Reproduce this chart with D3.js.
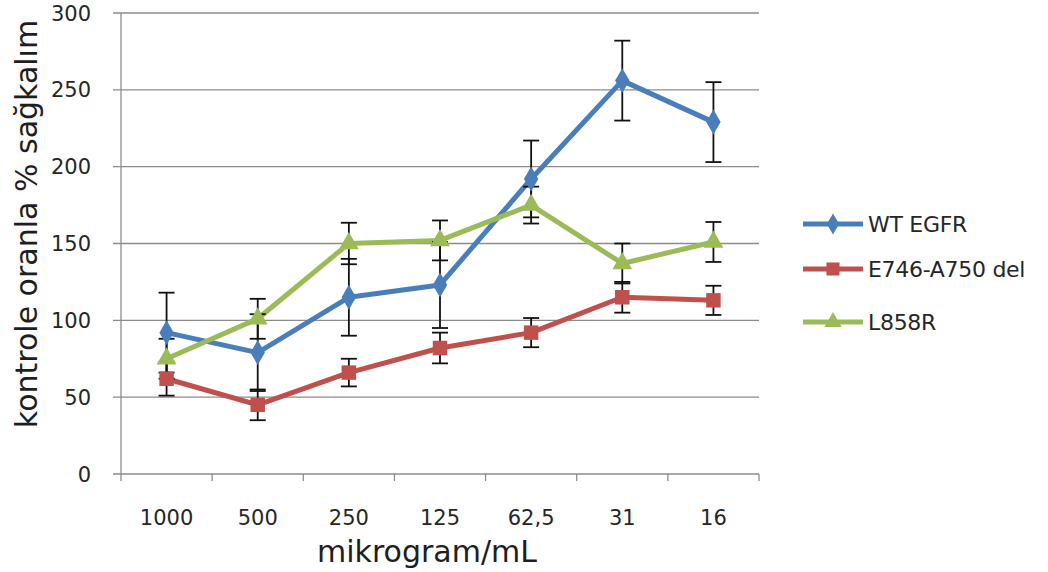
<!DOCTYPE html>
<html>
<head>
<meta charset="utf-8">
<script src="https://cdn.jsdelivr.net/npm/d3@7"></script>
<style>
  body { margin: 0; background: #fff; }
  text { font-family: "DejaVu Sans", "Open Sans", sans-serif; fill: #262626; }
</style>
</head>
<body>
<div id="chart"></div>
<script>
const categories = ["1000", "500", "250", "125", "62,5", "31", "16"];
const yTicks = [0, 50, 100, 150, 200, 250, 300];

const wtValues = [92, 79, 115, 123, 192, 256, 229];
const wtErrors = [26, 25, 25, 28, 25, 26, 26];
const delValues = [62, 45, 66, 82, 92, 115, 113];
const delErrors = [11, 10, 9, 10, 9.5, 10, 9.5];
const l858Values = [75, 101, 150, 152, 175, 137, 151];
const l858Errors = [13, 13, 13.5, 13, 12, 13, 13];

const series = [
  {name: "WT EGFR", values: wtValues, errors: wtErrors, color: "#4a7ebb", shape: d3.symbolDiamond},
  {name: "E746-A750 del", values: delValues, errors: delErrors, color: "#c0504d", shape: d3.symbolSquare},
  {name: "L858R", values: l858Values, errors: l858Errors, color: "#9bbb59", shape: d3.symbolTriangle}
];

const margin = {top: 13, right: 289, bottom: 98, left: 121};
const totalW = 1048, totalH = 572;
const width = totalW - margin.left - margin.right;
const height = totalH - margin.top - margin.bottom;

const svg = d3.select("#chart")
  .append("svg")
  .attr("width", totalW)
  .attr("height", totalH)
  .append("g")
  .attr("transform", `translate(${margin.left},${margin.top})`);

const x = d3.scaleBand().domain(categories).range([0, width]);
const y = d3.scaleLinear().domain([0, 300]).range([height, 0]);

// gridlines
svg.append("g")
  .selectAll("line")
  .data(yTicks)
  .enter()
  .append("line")
  .attr("x1", -8)
  .attr("x2", width)
  .attr("y1", d => y(d))
  .attr("y2", d => y(d))
  .attr("stroke", "#8c8c8c")
  .attr("stroke-width", 1.3);

// y axis line + labels
svg.append("line")
  .attr("x1", 0).attr("x2", 0)
  .attr("y1", 0).attr("y2", height)
  .attr("stroke", "#8c8c8c")
  .attr("stroke-width", 1.3);

svg.append("g")
  .selectAll("text")
  .data(yTicks)
  .enter()
  .append("text")
  .attr("x", -30)
  .attr("y", d => y(d))
  .attr("dy", "0.36em")
  .attr("text-anchor", "end")
  .style("font-size", "21px")
  .text(d => d);

// x axis ticks
const xTickPos = categories.map(c => x(c)).concat([width]);
svg.append("g")
  .selectAll("line")
  .data(xTickPos)
  .enter()
  .append("line")
  .attr("x1", d => d).attr("x2", d => d)
  .attr("y1", height).attr("y2", height + 7)
  .attr("stroke", "#8c8c8c")
  .attr("stroke-width", 1.3);

svg.append("g")
  .selectAll("text")
  .data(categories)
  .enter()
  .append("text")
  .attr("x", d => x(d) + x.bandwidth() / 2)
  .attr("y", height + 51)
  .attr("text-anchor", "middle")
  .style("font-size", "21px")
  .text(d => d);

// axis titles
svg.append("text")
  .attr("x", 427 - margin.left)
  .attr("y", 562 - margin.top)
  .attr("text-anchor", "middle")
  .style("font-size", "30px")
  .style("fill", "#1e1e1e")
  .text("mikrogram/mL");

svg.append("text")
  .attr("transform", `translate(${37 - margin.left},${224 - margin.top})rotate(-90)`)
  .attr("text-anchor", "middle")
  .style("font-size", "30px")
  .style("fill", "#1e1e1e")
  .text("kontrole oranla % sağkalım");

const cx = c => x(c) + x.bandwidth() / 2;
const line = d3.line()
  .x((d, i) => cx(categories[i]))
  .y(d => y(d));

// lines first, then error bars and markers
series.forEach(s => {
  svg.append("path")
    .datum(s.values)
    .attr("fill", "none")
    .attr("stroke", s.color)
    .attr("stroke-width", 5)
    .attr("stroke-linejoin", "round")
    .attr("d", line);
});

series.forEach(s => {
  const g = svg.append("g");
  s.values.forEach((v, i) => {
    const px = cx(categories[i]);
    const top = y(v + s.errors[i]);
    const bot = y(v - s.errors[i]);
    g.append("line").attr("x1", px).attr("x2", px).attr("y1", top).attr("y2", bot)
      .attr("stroke", "#111").attr("stroke-width", 1.8);
    [top, bot].forEach(yy => {
      g.append("line").attr("x1", px - 8).attr("x2", px + 8).attr("y1", yy).attr("y2", yy)
        .attr("stroke", "#111").attr("stroke-width", 1.8);
    });
  });
});

series.forEach(s => {
  const size = s.shape === d3.symbolDiamond ? 180 : (s.shape === d3.symbolTriangle ? 170 : 210);
  svg.append("g")
    .selectAll("path")
    .data(s.values)
    .enter()
    .append("path")
    .attr("transform", (d, i) => `translate(${cx(categories[i])},${y(d)})`)
    .attr("d", d3.symbol().type(s.shape).size(size))
    .attr("fill", s.color);
});

// legend
const legend = svg.append("g")
  .attr("transform", `translate(${803 - margin.left},${-margin.top})`);

const legendY = [224, 269, 322];
series.forEach((s, i) => {
  const row = legend.append("g").attr("transform", `translate(0,${legendY[i]})`);
  row.append("line").attr("x1", 0).attr("x2", 60).attr("y1", 0).attr("y2", 0)
    .attr("stroke", s.color).attr("stroke-width", 5);
  const size = s.shape === d3.symbolDiamond ? 130 : (s.shape === d3.symbolTriangle ? 130 : 170);
  row.append("path")
    .attr("transform", "translate(30,0)")
    .attr("d", d3.symbol().type(s.shape).size(size))
    .attr("fill", s.color);
  row.append("text")
    .attr("x", 65)
    .attr("dy", "0.36em")
    .style("font-size", "22px")
    .style("letter-spacing", "-0.3px")
    .text(s.name);
});
</script>
</body>
</html>
